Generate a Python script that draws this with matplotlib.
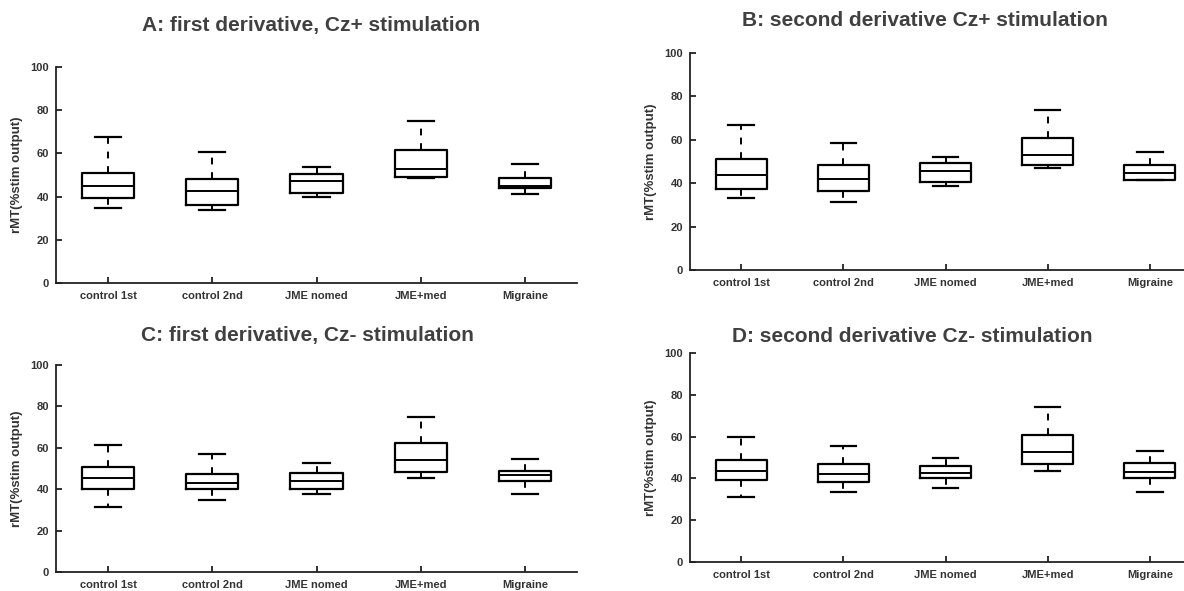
from matplotlib import pyplot as plt

plt.rcParams['font.family'] = ['Liberation Sans', 'DejaVu Sans']
plt.rcParams['font.weight'] = 'bold'
plt.rcParams['axes.labelweight'] = 'bold'

groups = ["control 1st", "control 2nd", "JME nomed", "JME+med", "Migraine"]

# lower whisker, Q1, median, Q3, upper whisker
a_low = [34.5, 34.0, 39.8, 48.5, 41.3]
a_q1 = [39.2, 36.3, 41.5, 49.2, 43.9]
a_med = [45.0, 42.4, 47.1, 52.7, 45.1]
a_q3 = [50.9, 48.0, 50.6, 61.7, 48.8]
a_high = [67.5, 60.5, 53.7, 74.8, 55.2]

b_low = [33.1, 31.2, 38.7, 47.0, 41.3]
b_q1 = [37.2, 36.3, 40.4, 48.4, 41.3]
b_med = [43.8, 42.0, 45.6, 53.1, 44.6]
b_q3 = [51.1, 48.4, 49.3, 60.9, 48.4]
b_high = [66.6, 58.7, 52.2, 73.7, 54.5]

c_low = [31.5, 35.0, 37.8, 45.3, 37.5]
c_q1 = [39.9, 39.9, 39.9, 48.4, 43.9]
c_med = [45.3, 43.1, 44.1, 54.0, 46.8]
c_q3 = [50.5, 47.4, 47.6, 62.1, 48.6]
c_high = [61.3, 57.1, 52.6, 75.1, 54.5]

d_low = [31.0, 33.4, 35.2, 43.5, 33.4]
d_q1 = [39.2, 38.2, 40.0, 46.9, 40.0]
d_med = [43.5, 42.2, 42.7, 52.8, 43.2]
d_q3 = [49.0, 47.0, 46.1, 61.0, 47.4]
d_high = [59.7, 55.4, 49.9, 74.2, 53.3]

titles = ["A: first derivative, Cz+ stimulation",
          "B: second derivative Cz+ stimulation",
          "C: first derivative, Cz- stimulation",
          "D: second derivative Cz- stimulation"]

panels = [(a_low, a_q1, a_med, a_q3, a_high),
          (b_low, b_q1, b_med, b_q3, b_high),
          (c_low, c_q1, c_med, c_q3, c_high),
          (d_low, d_q1, d_med, d_q3, d_high)]

W, H = 1184, 591
# axes boxes in pixels: left, right, top, bottom
boxes = [(56, 577, 67, 283), (690, 1201, 53, 270),
         (56, 577, 365, 572), (690, 1201, 353, 562)]
title_pos = [(311, 25), (925, 20), (307, 336), (912, 336)]
txt = '#333333'

fig = plt.figure(figsize=(W / 100, H / 100), dpi=100)

for (l, r, t, b), data, title, (tx, ty) in zip(boxes, panels, titles, title_pos):
    ax = fig.add_axes([l / W, 1 - b / H, (r - l) / W, (b - t) / H])
    low, q1, med, q3, high = data
    stats = [dict(whislo=lo, q1=a, med=m, q3=c, whishi=hi, label=g)
             for lo, a, m, c, hi, g in zip(low, q1, med, q3, high, groups)]
    ax.bxp(stats, positions=range(1, 6), widths=0.5, capwidths=0.25,
           showfliers=False,
           boxprops=dict(color='black', linewidth=1.6),
           medianprops=dict(color='black', linewidth=1.4),
           whiskerprops=dict(color='black', linewidth=1.4, linestyle=(0, (3.5, 4))),
           capprops=dict(color='black', linewidth=1.6))
    ax.set_xlim(0.5, 5.5)
    ax.set_ylim(0, 100)
    ax.set_yticks([0, 20, 40, 60, 80, 100])
    ax.spines['top'].set_visible(False)
    ax.spines['right'].set_visible(False)
    for s in ('left', 'bottom'):
        ax.spines[s].set_linewidth(1.3)
        ax.spines[s].set_color('#222222')
    ax.tick_params(direction='in', length=4, width=1.3, labelsize=8,
                   colors='#222222', labelcolor=txt)
    ax.tick_params(axis='x', pad=5.5)
    ax.tick_params(axis='y', pad=5)
    ax.set_ylabel("rMT(%stim output)", fontsize=9.5, color=txt, labelpad=5)
    fig.text(tx / W, 1 - ty / H, title, ha='center', va='center',
             fontsize=15, fontweight='bold', color='#404040')

plt.savefig('out.png', dpi=100)
